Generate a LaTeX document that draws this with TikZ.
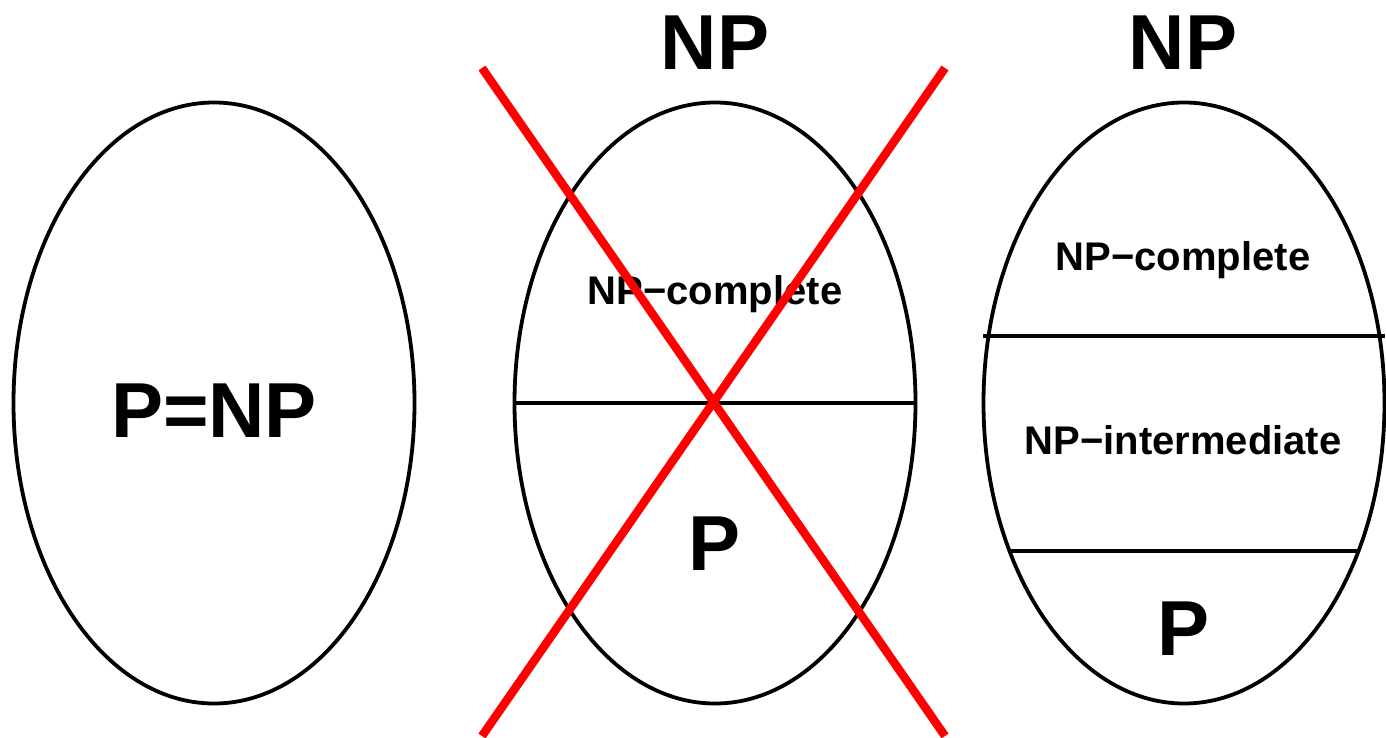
\documentclass[tikz,border=0pt]{standalone}
\usepackage{fontspec}
\setmainfont{Liberation Sans}
\usetikzlibrary{shapes.geometric}
\begin{document}
\begin{tikzpicture}[x=1pt,y=-1pt,
  set/.style={ellipse,draw,line width=3.8pt,minimum width=401pt,minimum height=601pt,inner sep=0pt},
  chord/.style={line width=3.8pt},
  big/.style={font=\fontsize{78}{78}\selectfont\bfseries,anchor=base,inner sep=0pt},
  small/.style={font=\fontsize{40}{40}\selectfont\bfseries,anchor=base,inner sep=0pt},
  cross/.style={draw=red,line width=8.5pt}]
\useasboundingbox (0,0) rectangle (1386,738);
\node[set] (e1) at (214,403) {};
\node[set] (e2) at (715,403) {};
\node[set] (e3) at (1184,403) {};
% chords
\draw[chord] (e2.west) -- (e2.east);
\coordinate (c1l) at (983,336); \coordinate (c1r) at (1385,336);
\coordinate (c2l) at (1009,551); \coordinate (c2r) at (1359,551);
\draw[chord] (c1l) -- (c1r);
\draw[chord] (c2l) -- (c2r);
% labels
\node[big] (pnp) at (214,437) {P=NP};
\node[big] (np2) at (715,70) {NP};
\node[big] (np3) at (1183,70) {NP};
\node[small] (npc2) at (715,304) {NP−complete};
\node[big] (p2) at (715,570) {P};
\node[small] (npc3) at (1183,270) {NP−complete};
\node[small] (npi3) at (1183,454) {NP−intermediate};
\node[big] (p3) at (1183,655) {P};
% red cross
\coordinate (xa) at (482,68); \coordinate (xb) at (945,736);
\coordinate (xc) at (945,68); \coordinate (xd) at (482,736);
\draw[cross] (xa) -- (xb);
\draw[cross] (xc) -- (xd);
\end{tikzpicture}
\end{document}
